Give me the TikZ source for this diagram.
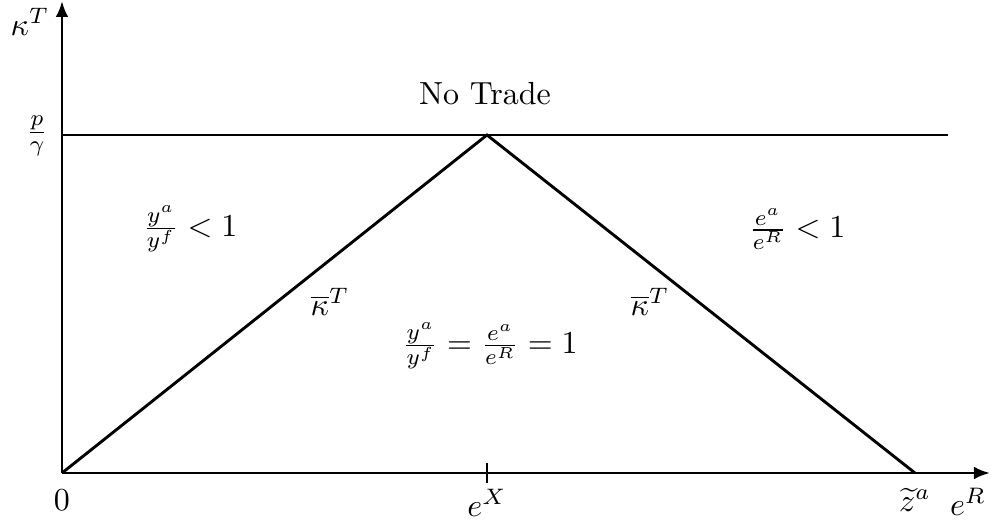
\documentclass[tikz,border=0pt]{standalone}
\usepackage{amsmath}
\usepackage{amssymb}
\usepackage{tikz}
\usetikzlibrary{arrows.meta,calc,positioning}

\begin{document}
\begin{tikzpicture}[x=0.3125pt, y=-0.3125pt, line width=0.9pt, line cap=butt]
\def\oy{473}
\def\py{135}
\def\ex{487}
\def\zx{915}
\useasboundingbox (0,0) rectangle (995,527);
\coordinate (O) at (62,\oy);
\coordinate (ytop) at (62,1);
\coordinate (xend) at (990,\oy);
\coordinate (pl) at (62,\py);
\coordinate (pr) at (948,\py);
\coordinate (apex) at (\ex,\py);
\coordinate (zt) at (\zx,\oy);
% axes
\draw[-{Latex[length=5pt,width=4pt]}] (O) -- (ytop);
\draw[-{Latex[length=5pt,width=4pt]}] (O) -- (xend);
\draw (\ex,463) -- (\ex,483);
% lines
\draw (pl) -- (pr);
\draw (O) -- (apex) -- (zt);
% labels
\node (kap) at (30,22) {$\kappa^T$};
\node (pg) at (37,136) {$\frac{p}{\gamma}$};
\node (zero) at (62,500) {$0$};
\node (eX) at (\ex,503) {$e^X$};
\node (zta) at (\zx,500) {$\widetilde{z}^a$};
\node (eR) at (968,502) {$e^R$};
\node (nt) at (485,94) {No Trade};
\node (lreg) at (190,229) {$\frac{y^a}{y^f} < 1$};
\node (rreg) at (797,229) {$\frac{e^a}{e^R} < 1$};
\node (kl) at (330,302) {$\overline{\kappa}^T$};
\node (kr) at (650,302) {$\overline{\kappa}^T$};
\node (mid) at (490,346) {$\frac{y^a}{y^f} = \frac{e^a}{e^R} = 1$};
\end{tikzpicture}
\end{document}
